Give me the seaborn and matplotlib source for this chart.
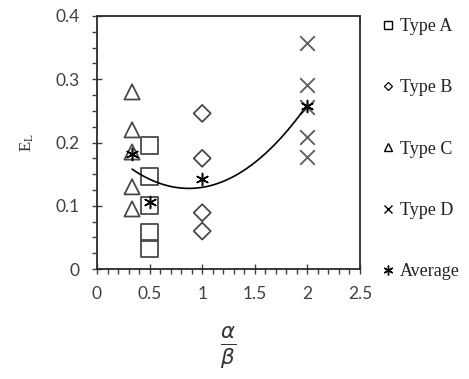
import numpy as np
import pandas as pd
import matplotlib
matplotlib.use("Agg")
import matplotlib.pyplot as plt
from matplotlib.lines import Line2D
from matplotlib.ticker import MultipleLocator, FuncFormatter
import seaborn as sns

# alpha/beta ratio for each specimen type
x_a = 0.5
x_b = 1.0
x_c = 1 / 3
x_d = 2.0

# E_L values per type
type_a = [0.195, 0.146, 0.100, 0.057, 0.033]
type_b = [0.246, 0.175, 0.089, 0.060]
type_c = [0.280, 0.220, 0.185, 0.130, 0.095]
type_d = [0.357, 0.291, 0.256, 0.209, 0.177]

labels = ["Type A", "Type B", "Type C", "Type D"]

rows = []
for lab, xv, vals in zip(labels, [x_a, x_b, x_c, x_d], [type_a, type_b, type_c, type_d]):
    for v in vals:
        rows.append({"ratio": xv, "EL": v, "type": lab})
df = pd.DataFrame(rows)
avg = df.groupby("type", as_index=False).agg(ratio=("ratio", "first"), EL=("EL", "mean"))

# second-order trend through the averages
coef = np.polyfit(avg["ratio"], avg["EL"], 2)
xs = np.linspace(avg["ratio"].min(), avg["ratio"].max(), 200)
trend = pd.DataFrame({"ratio": xs, "EL": np.polyval(coef, xs)})

sns.set_style("ticks")
plt.rcParams["font.family"] = ["Lato", "DejaVu Sans"]

fig = plt.figure(figsize=(4.69, 3.79), dpi=100)
ax = fig.add_axes([0.2068, 0.2902, 0.5608, 0.6676])

grey = "#4a4a4a"
mk = {"Type A": "s", "Type B": "D", "Type C": "^", "Type D": "x"}
sz = {"Type A": 150, "Type B": 75, "Type C": 120, "Type D": 110}
for lab in labels:
    sub = df[df["type"] == lab]
    if lab == "Type D":
        sns.scatterplot(data=sub, x="ratio", y="EL", marker="x", s=sz[lab],
                        color="#5a5a5a", linewidth=1.3, ax=ax, legend=False, zorder=3)
    else:
        sns.scatterplot(data=sub, x="ratio", y="EL", marker=mk[lab], s=sz[lab],
                        facecolor="none", edgecolor=grey, linewidth=1.3, ax=ax,
                        legend=False, zorder=3)

sns.lineplot(data=trend, x="ratio", y="EL", color="black", linewidth=1.2, ax=ax, zorder=4)
sns.scatterplot(data=avg, x="ratio", y="EL", marker=(6, 2, 0), s=75, color="black",
                linewidth=1.1, ax=ax, legend=False, zorder=5)

ax.set_xlim(0, 2.5)
ax.set_ylim(0, 0.4)
ax.xaxis.set_major_locator(MultipleLocator(0.5))
ax.xaxis.set_minor_locator(MultipleLocator(0.1))
ax.yaxis.set_major_locator(MultipleLocator(0.1))
ax.yaxis.set_minor_locator(MultipleLocator(0.025))
ax.xaxis.set_major_formatter(FuncFormatter(lambda v, p: f"{v:g}"))
ax.yaxis.set_major_formatter(FuncFormatter(lambda v, p: f"{v:g}"))
ax.tick_params(which="major", direction="inout", length=7, width=1, color="#404040",
               labelsize=12.5, labelcolor="#404040")
ax.tick_params(axis="y", which="major", pad=9)
ax.tick_params(axis="x", which="major", pad=9)
ax.tick_params(which="minor", direction="out", length=3.5, width=1, color="#404040")
for sp in ax.spines.values():
    sp.set_color("#2a2a2a")
    sp.set_linewidth(1.3)

ax.set_ylabel(r"$\mathregular{E_L}$", fontsize=12, family=["Liberation Serif"],
              color="#333333", labelpad=14)
ax.set_xlabel(r"$\frac{\alpha}{\beta}$", fontsize=22, color="#333333", labelpad=16)

handles = [
    Line2D([], [], marker="s", ls="none", mfc="none", mec="black", ms=6, mew=1),
    Line2D([], [], marker="D", ls="none", mfc="none", mec="black", ms=4.5, mew=0.9),
    Line2D([], [], marker="^", ls="none", mfc="none", mec="black", ms=6, mew=1),
    Line2D([], [], marker="x", ls="none", color="black", ms=6, mew=1),
    Line2D([], [], marker=(6, 2, 0), ls="none", color="black", ms=7, mew=1.0),
]
leg = ax.legend(handles, labels + ["Average"], loc="upper left",
                bbox_to_anchor=(1.06, 1.02), frameon=False, handlelength=0.6,
                handletextpad=0.35, labelspacing=2.45, borderaxespad=0,
                prop={"family": "Liberation Serif", "size": 13})
for t in leg.get_texts():
    t.set_color("#222222")

fig.savefig("out.png", dpi=100)
